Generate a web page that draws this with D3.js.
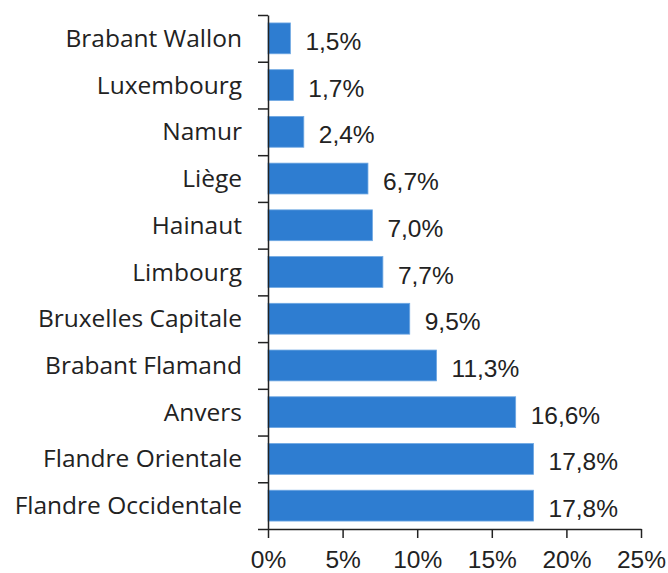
<!DOCTYPE html>
<html>
<head>
<meta charset="utf-8">
<script src="https://cdn.jsdelivr.net/npm/d3@7"></script>
<style>
  body { margin: 0; background: #fff; }
</style>
</head>
<body>
<script>
var provinces = ["Brabant Wallon", "Luxembourg", "Namur", "Liège", "Hainaut", "Limbourg",
  "Bruxelles Capitale", "Brabant Flamand", "Anvers", "Flandre Orientale", "Flandre Occidentale"];
var shares = [1.5, 1.7, 2.4, 6.7, 7.0, 7.7, 9.5, 11.3, 16.6, 17.8, 17.8];
var xTicks = [0, 5, 10, 15, 20, 25];

var width = 668, height = 573;
var plotLeft = 268, plotRight = 641, plotTop = 15, plotBottom = 529;

var svg = d3.select("body").append("svg").attr("width", width).attr("height", height);

var x = d3.scaleLinear().domain([0, 25]).range([plotLeft, plotRight]);
var y = d3.scaleBand().domain(provinces).range([plotTop, plotBottom]).paddingInner(0.34).paddingOuter(0.17);
var yEdge = d3.scaleLinear().domain([0, provinces.length]).range([plotTop, plotBottom]);

var fmt = function(v) { return v.toFixed(1).replace(".", ",") + "%"; };

// bars
svg.selectAll("rect.bar")
  .data(provinces)
  .join("rect")
  .attr("class", "bar")
  .attr("x", x(0))
  .attr("y", function(d) { return y(d); })
  .attr("width", function(d, i) { return x(shares[i]) - x(0); })
  .attr("height", y.bandwidth())
  .attr("fill", "#2e7dd1")
  .attr("stroke", "#6fa8e3")
  .attr("stroke-width", 0.8);

// value labels
svg.selectAll("text.val")
  .data(provinces)
  .join("text")
  .attr("class", "val")
  .attr("x", function(d, i) { return x(shares[i]) + 15; })
  .attr("y", function(d) { return y(d) + y.bandwidth() / 2 + 3; })
  .attr("dy", "0.35em")
  .attr("font-family", "Liberation Sans, Arial, sans-serif")
  .attr("font-size", 24.5)
  .attr("fill", "#222")
  .text(function(d, i) { return fmt(shares[i]); });

// y axis with ticks at band edges
var yAxis = svg.append("g")
  .attr("transform", "translate(" + plotLeft + ",0)")
  .call(d3.axisLeft(yEdge).tickValues(d3.range(provinces.length + 1)).tickSize(10).tickSizeOuter(0).tickFormat(""));
yAxis.selectAll("path, line").attr("stroke", "#222").attr("stroke-width", 1.5);

// category labels
svg.selectAll("text.cat")
  .data(provinces)
  .join("text")
  .attr("class", "cat")
  .attr("x", plotLeft - 26)
  .attr("y", function(d) { return y(d) + y.bandwidth() / 2; })
  .attr("dy", "0.35em")
  .attr("text-anchor", "end")
  .attr("font-family", "Open Sans, sans-serif")
  .attr("font-size", 24.5)
  .attr("fill", "#222")
  .text(function(d) { return d; });

// x axis
var xAxis = svg.append("g")
  .attr("transform", "translate(0," + plotBottom + ")")
  .call(d3.axisBottom(x).tickValues(xTicks).tickSize(9).tickSizeOuter(0).tickPadding(13)
    .tickFormat(function(d) { return d + "%"; }));
xAxis.selectAll("path, line").attr("stroke", "#222").attr("stroke-width", 1.5);
xAxis.selectAll("text")
  .attr("font-family", "Liberation Sans, Arial, sans-serif")
  .attr("font-size", 24.5)
  .attr("fill", "#222");
</script>
</body>
</html>
